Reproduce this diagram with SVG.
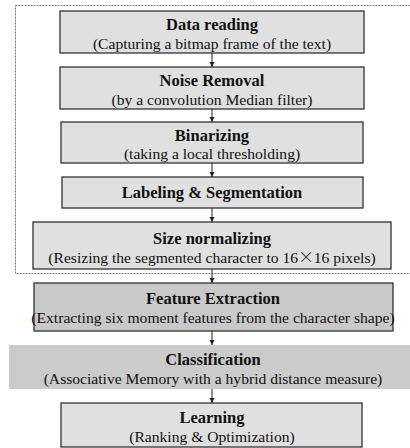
<svg xmlns="http://www.w3.org/2000/svg" width="410" height="448" viewBox="0 0 410 448">
<defs>
<marker id="ah" markerWidth="6" markerHeight="6" refX="5" refY="3" orient="auto" markerUnits="userSpaceOnUse">
<path d="M0,0.5 L5,3 L0,5.5 Z" fill="#222"/>
</marker>
<style>
.box{fill:#e0e0e0;stroke:#333;stroke-width:1.3}
.dark{fill:#c9c9c9;stroke:#333;stroke-width:1.3}
.flat{fill:#cbcbcb;stroke:none}
text{font-family:'Liberation Serif','DejaVu Serif',serif;fill:#111;text-anchor:middle}
.t{font-size:16.5px;font-weight:bold}
.c{font-size:15.6px}
.x{font-family:'Noto Sans CJK JP','Liberation Serif',serif;font-weight:300}
.con line{stroke:#222;stroke-width:1;marker-end:url(#ah)}
</style>
</defs>
<rect width="410" height="448" fill="#fff"/>
<rect id="frame" x="15.5" y="5.5" width="400" height="268" fill="none" stroke="#777" stroke-width="1" stroke-dasharray="2,1"/>
<g id="n1"><rect class="box" x="60" y="11" width="304" height="42"/><text class="t" x="212" y="30">Data reading</text><text class="c" x="212" y="49">(Capturing a bitmap frame of the text)</text></g>
<g id="n2"><rect class="box" x="60" y="67" width="304" height="42"/><text class="t" x="212" y="86">Noise Removal</text><text class="c" x="212" y="105">(by a convolution Median filter)</text></g>
<g id="n3"><rect class="box" x="61" y="122" width="302" height="41"/><text class="t" x="212" y="141">Binarizing</text><text class="c" x="212" y="159">(taking a local thresholding)</text></g>
<g id="n4"><rect class="box" x="62" y="177" width="301" height="31"/><text class="t" x="212" y="198">Labeling &amp; Segmentation</text></g>
<g id="n5"><rect class="box" x="33" y="222" width="358" height="47"/><text class="t" x="212" y="244">Size normalizing</text><text class="c" x="212" y="263">(Resizing the segmented character to 16<tspan class="x">×</tspan>16 pixels)</text></g>
<g id="n6"><rect class="dark" x="34" y="283" width="359" height="48"/><text class="t" x="213" y="304">Feature Extraction</text><text class="c" x="213" y="323">(Extracting six moment features from the character shape)</text></g>
<g id="n7"><rect class="flat" x="9" y="345" width="401" height="44"/><text class="t" x="213" y="365">Classification</text><text class="c" x="213" y="384">(Associative Memory with a hybrid distance measure)</text></g>
<g id="n8"><rect class="box" x="61" y="403" width="301" height="44"/><text class="t" x="212" y="423">Learning</text><text class="c" x="212" y="442">(Ranking &amp; Optimization)</text></g>
<g id="connectors" class="con">
<line x1="212" y1="53" x2="212" y2="67"/>
<line x1="212" y1="109" x2="212" y2="122"/>
<line x1="212" y1="163" x2="212" y2="177"/>
<line x1="212" y1="208" x2="212" y2="222"/>
<line x1="212" y1="269" x2="212" y2="283"/>
<line x1="212" y1="331" x2="212" y2="345"/>
<line x1="212" y1="389" x2="212" y2="403"/>
</g>
</svg>
